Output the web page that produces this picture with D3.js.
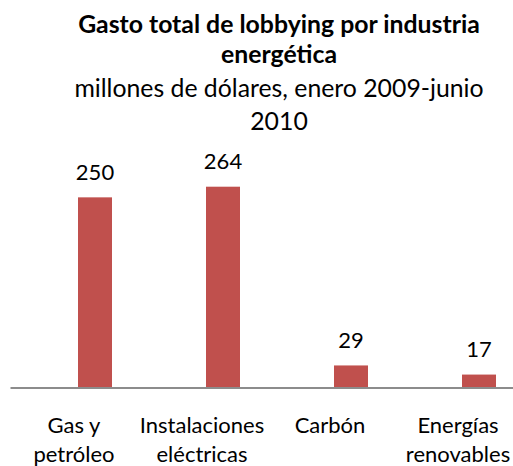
<!DOCTYPE html>
<html>
<head>
<meta charset="utf-8">
<script src="https://cdn.jsdelivr.net/npm/d3@7"></script>
<style>
  html, body { margin: 0; padding: 0; background: #ffffff; }
  svg { display: block; font-family: Lato, "Open Sans", sans-serif; }
</style>
</head>
<body>
<svg id="chart" width="513" height="466"></svg>
<script>
// Lobbying spend by energy industry (millions of USD)
const categories = [
  ["Gas y", "petróleo"],
  ["Instalaciones", "eléctricas"],
  ["Carbón"],
  ["Energías", "renovables"]
];
const values = [250, 264, 29, 17];
const titleLines = ["Gasto total de lobbying por industria", "energética"];
const subtitleLines = ["millones de dólares, enero 2009-junio", "2010"];

const svg = d3.select("#chart");
const barColor = "#C0504D";
const keys = categories.map(c => c.join(" "));

// category axis spans the plot area; bars sit slightly right of each slot centre
const x = d3.scaleBand().domain(keys).range([10, 522]).paddingInner(0).paddingOuter(0);
const y = d3.scaleLinear().domain([0, 264]).range([387.5, 186.7]);
const barWidth = 34;
const barShift = 4;

// title
const cx = 279;
svg.append("text")
  .attr("text-anchor", "middle")
  .attr("font-weight", "bold")
  .attr("font-size", 24.8)
  .attr("fill", "#000")
  .selectAll("tspan").data(titleLines).join("tspan")
  .attr("x", cx)
  .attr("y", (d, i) => 32.5 + i * 30.5)
  .text(d => d);

svg.append("text")
  .attr("text-anchor", "middle")
  .attr("font-size", 24.8)
  .attr("fill", "#000")
  .selectAll("tspan").data(subtitleLines).join("tspan")
  .attr("x", cx)
  .attr("y", (d, i) => 96.5 + i * 33)
  .text(d => d);

// bars
svg.append("g").selectAll("rect").data(values).join("rect")
  .attr("x", (d, i) => x(keys[i]) + x.bandwidth() / 2 + barShift)
  .attr("y", d => y(d))
  .attr("width", barWidth)
  .attr("height", d => y(0) - y(d))
  .attr("fill", barColor);

// value labels
svg.append("g").selectAll("text").data(values).join("text")
  .attr("x", (d, i) => x(keys[i]) + x.bandwidth() / 2 + barShift + barWidth / 2)
  .attr("y", d => y(d) - 17.5)
  .attr("text-anchor", "middle")
  .attr("font-size", 22)
  .attr("fill", "#000")
  .text(d => d);

// category axis
const axis = d3.axisBottom(x).tickSize(0).tickFormat("");
const gAxis = svg.append("g").attr("transform", `translate(0,${y(0)})`).call(axis);
gAxis.select(".domain").attr("stroke", "#8c8c8c").attr("stroke-width", 2);

// category labels
const lab = svg.append("g").selectAll("text").data(categories).join("text")
  .attr("text-anchor", "middle")
  .attr("font-size", 22)
  .attr("fill", "#000");
lab.selectAll("tspan").data((d, i) => d.map(t => ({ t, i }))).join("tspan")
  .attr("x", d => x(keys[d.i]) + x.bandwidth() / 2)
  .attr("y", (d, j) => 433 + j * 28.5)
  .text(d => d.t);
</script>
</body>
</html>
